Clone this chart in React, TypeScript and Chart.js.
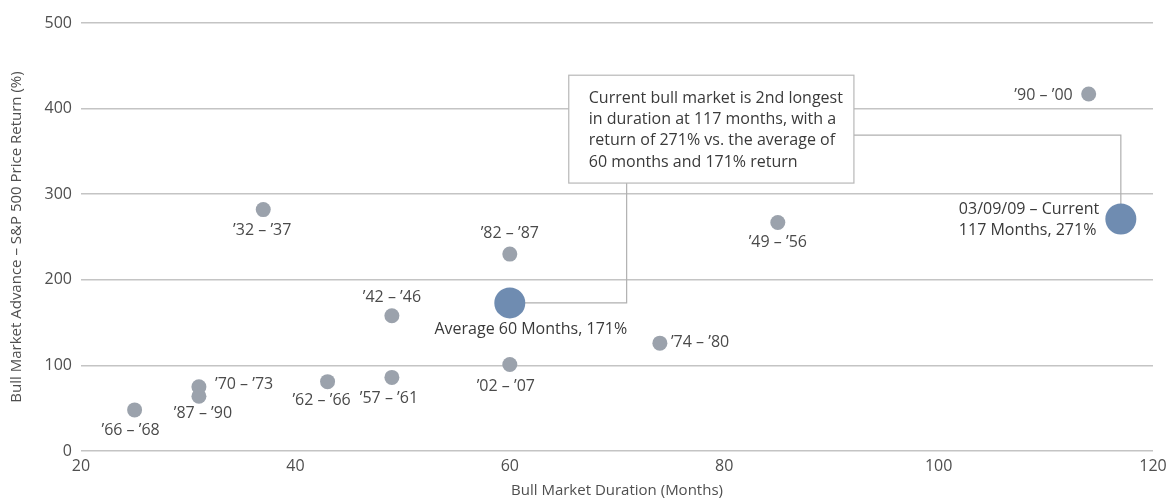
import React, { useEffect, useRef } from "react";
import { Chart, registerables } from "chart.js";

Chart.register(...registerables);

// ---- data ----
const periods = [
  "’32 – ’37", "’42 – ’46", "’49 – ’56", "’57 – ’61", "’62 – ’66", "’66 – ’68",
  "’70 – ’73", "’74 – ’80", "’82 – ’87", "’87 – ’90", "’90 – ’00", "’02 – ’07",
];
const durations = [37, 49, 85, 49, 43, 25, 31, 74, 60, 31, 114, 60];
const returns = [282, 158, 267, 86, 81, 48, 75, 126, 230, 64, 417, 101];

const highlightNames = [["Average 60 Months, 171%"], ["03/09/09 – Current", "117 Months, 271%"]];
const highlightDurations = [60, 117];
const highlightReturns = [173, 271];

const xTickMin = 20;
const xTickMax = 120;
const xTickStep = 20;
const yTickMin = 0;
const yTickMax = 500;
const yTickStep = 100;

const xTitle = "Bull Market Duration (Months)";
const yTitle = "Bull Market Advance – S&P 500 Price Return (%)";

const calloutLines = [
  "Current bull market is 2nd longest",
  "in duration at 117 months, with a",
  "return of 271% vs. the average of",
  "60 months and 171% return",
];

// ---- styles / placement (not data) ----
const FONT = "'Open Sans', sans-serif";
const GREY = "#9ba2ac";
const BLUE = "#6f8cb1";
const LABEL_COLOR = "#4a4a4a";
const LINE_COLOR = "#b0b0b0";

// label placement per historical point: [dx, dy, align]
const labelPlacement: [number, number, CanvasTextAlign][] = [
  [-1, 21, "center"],
  [0, -18, "center"],
  [0, 20, "center"],
  [-3, 21, "center"],
  [-6, 19, "center"],
  [-4, 21, "center"],
  [16, -2, "left"],
  [11, -1, "left"],
  [0, -21, "center"],
  [4, 17, "center"],
  [-16, 1, "right"],
  [-4, 22, "center"],
];
const highlightPlacement: [number, number, CanvasTextAlign][] = [
  [21, 27, "center"],
  [-162, -10, "left"],
];

// callout box in data coordinates
const callout = { xMin: 65.5, xMax: 92.1, yMin: 313, yMax: 439, elbowX: 70.9, rightLineY: 369 };

const annotationPlugin = {
  id: "annotations",
  beforeDatasetsDraw(chart: any) {
    const { ctx, scales } = chart;
    const x = scales.x;
    const y = scales.y;
    const left = x.getPixelForValue(callout.xMin);
    const right = x.getPixelForValue(callout.xMax);
    const top = y.getPixelForValue(callout.yMax);
    const bottom = y.getPixelForValue(callout.yMin);
    ctx.save();
    // connectors
    ctx.strokeStyle = LINE_COLOR;
    ctx.lineWidth = 1.2;
    const avgX = x.getPixelForValue(highlightDurations[0]);
    const avgY = y.getPixelForValue(highlightReturns[0]);
    const elbow = x.getPixelForValue(callout.elbowX);
    ctx.beginPath();
    ctx.moveTo(avgX, avgY);
    ctx.lineTo(elbow, avgY);
    ctx.lineTo(elbow, bottom);
    ctx.stroke();
    const curX = x.getPixelForValue(highlightDurations[1]);
    const curY = y.getPixelForValue(highlightReturns[1]);
    const ry = y.getPixelForValue(callout.rightLineY);
    ctx.beginPath();
    ctx.moveTo(right, ry);
    ctx.lineTo(curX, ry);
    ctx.lineTo(curX, curY);
    ctx.stroke();
    // box
    ctx.fillStyle = "#ffffff";
    ctx.fillRect(left, top, right - left, bottom - top);
    ctx.strokeStyle = "#b8b8b8";
    ctx.lineWidth = 1.2;
    ctx.strokeRect(left, top, right - left, bottom - top);
    // text
    ctx.fillStyle = "#3a3a3a";
    ctx.font = `16px ${FONT}`;
    ctx.textAlign = "left";
    ctx.textBaseline = "middle";
    calloutLines.forEach((line, i) => {
      ctx.fillText(line, left + 20, top + 23 + i * 21.3);
    });
    ctx.restore();
  },
  afterDatasetsDraw(chart: any) {
    const { ctx, scales } = chart;
    const x = scales.x;
    const y = scales.y;
    ctx.save();
    ctx.font = `16px ${FONT}`;
    ctx.textBaseline = "middle";
    ctx.fillStyle = LABEL_COLOR;
    periods.forEach((name, i) => {
      const [dx, dy, align] = labelPlacement[i];
      ctx.textAlign = align;
      ctx.fillText(name, x.getPixelForValue(durations[i]) + dx, y.getPixelForValue(returns[i]) + dy);
    });
    ctx.fillStyle = "#3a3a3a";
    highlightNames.forEach((lines, i) => {
      const [dx, dy, align] = highlightPlacement[i];
      ctx.textAlign = align;
      lines.forEach((line, j) => {
        ctx.fillText(
          line,
          x.getPixelForValue(highlightDurations[i]) + dx,
          y.getPixelForValue(highlightReturns[i]) + dy + j * 21
        );
      });
    });
    ctx.restore();
  },
};

export default function App() {
  const ref = useRef<HTMLCanvasElement | null>(null);
  useEffect(() => {
    document.body.style.margin = "0";
    const canvas = ref.current;
    if (!canvas) return;
    const chart = new Chart(canvas, {
      type: "scatter",
      data: {
        datasets: [
          {
            label: "Bull markets",
            data: durations.map((d, i) => ({ x: d, y: returns[i] })),
            backgroundColor: GREY,
            borderWidth: 0,
            pointRadius: 7.5,
            pointHoverRadius: 7.5,
          },
          {
            label: "Highlights",
            data: highlightDurations.map((d, i) => ({ x: d, y: highlightReturns[i] })),
            backgroundColor: BLUE,
            borderWidth: 0,
            pointRadius: 15.5,
            pointHoverRadius: 15.5,
          },
        ],
      },
      options: {
        responsive: false,
        animation: false,
        devicePixelRatio: 1,
        layout: { padding: { left: 0, right: 20, top: 23, bottom: 0 } },
        plugins: { legend: { display: false }, tooltip: { enabled: false } },
        scales: {
          x: {
            type: "linear",
            min: xTickMin,
            max: xTickMax,
            ticks: {
              stepSize: xTickStep,
              color: "#4f4f4f",
              font: { family: FONT, size: 16 },
              padding: 6,
            },
            grid: { display: false, drawTicks: false },
            border: { display: false },
            title: {
              display: true,
              text: xTitle,
              color: "#4f4f4f",
              font: { family: FONT, size: 15 },
              padding: { top: 2, bottom: 0 },
            },
            afterFit(scale: any) {
              scale.height = 49;
            },
          },
          y: {
            type: "linear",
            min: yTickMin,
            max: yTickMax,
            ticks: {
              stepSize: yTickStep,
              color: "#4f4f4f",
              font: { family: FONT, size: 16 },
              padding: 9,
            },
            grid: { color: "#c4c4c4", lineWidth: 1.5, drawTicks: false },
            border: { display: false },
            title: {
              display: true,
              text: yTitle,
              color: "#4f4f4f",
              font: { family: FONT, size: 15 },
              padding: { top: 8, bottom: 0 },
            },
            afterFit(scale: any) {
              scale.width = 81;
            },
          },
        },
      },
      plugins: [annotationPlugin],
    });
    return () => chart.destroy();
  }, []);
  return (
    <div style={{ width: 1173, height: 500 }}>
      <canvas ref={ref} width={1173} height={500} />
    </div>
  );
}
